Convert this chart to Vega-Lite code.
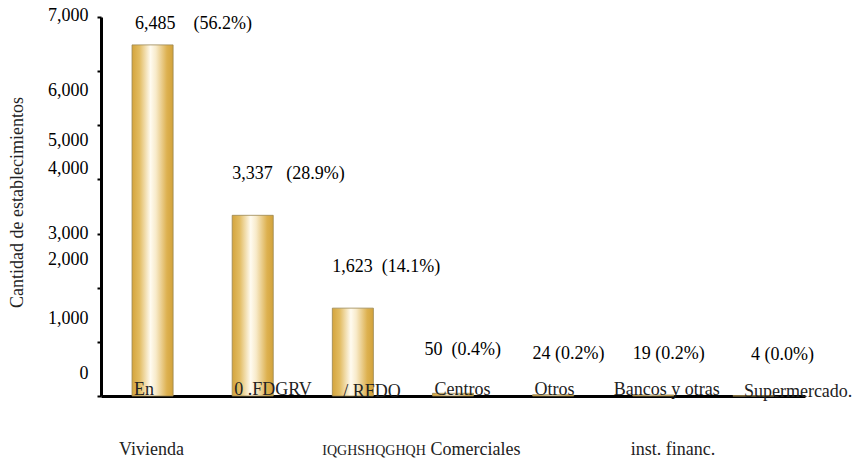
{
  "$schema": "https://vega.github.io/schema/vega-lite/v6.json",
  "width": 704,
  "height": 379,
  "autosize": {"type": "none"},
  "padding": {"left": 101, "top": 17, "right": 53, "bottom": 67},
  "background": "white",
  "config": {"view": {"stroke": null}, "font": "Liberation Serif"},
  "data": {
    "values": [
      {"cat": "Vivienda", "n": 6485, "lab": "6,485\u00a0\u00a0\u00a0\u00a0(56.2%)", "l1": "En", "l2": "Vivienda"},
      {"cat": "Mercados", "n": 3337, "lab": "3,337\u00a0\u00a0\u00a0(28.9%)", "l1": "0 .FDGRV", "l2": ""},
      {"cat": "Local independiente", "n": 1623, "lab": "1,623\u00a0\u00a0(14.1%)", "l1": "/ RFDO", "l2": "IQGHSHQGHQH"},
      {"cat": "Centros Comerciales", "n": 50, "lab": "50\u00a0\u00a0(0.4%)", "l1": "Centros", "l2": "Comerciales"},
      {"cat": "Otros", "n": 24, "lab": "24\u00a0(0.2%)", "l1": "Otros", "l2": ""},
      {"cat": "Bancos y otras inst. financ.", "n": 19, "lab": "19\u00a0(0.2%)", "l1": "Bancos y otras", "l2": "inst. financ."},
      {"cat": "Supermercado.", "n": 4, "lab": "4\u00a0(0.0%)", "l1": "Supermercado.", "l2": ""}
    ]
  },
  "encoding": {
    "x": {
      "field": "cat",
      "type": "nominal",
      "sort": null,
      "scale": {"paddingInner": 0.59, "paddingOuter": 0.31},
      "axis": {
        "title": null,
        "labels": false,
        "ticks": false,
        "domainColor": "#000000",
        "domainWidth": 3
      }
    }
  },
  "layer": [
    {
      "mark": {
        "type": "bar",
        "stroke": "#9a8650",
        "strokeWidth": 0.8,
        "color": {
          "gradient": "linear",
          "x1": 0, "y1": 0, "x2": 1, "y2": 0,
          "stops": [
            {"offset": 0, "color": "#D4A43C"},
            {"offset": 0.18, "color": "#E2BC62"},
            {"offset": 0.45, "color": "#FFFBF0"},
            {"offset": 0.58, "color": "#F8EBCB"},
            {"offset": 0.85, "color": "#DDB150"},
            {"offset": 1, "color": "#D2A23A"}
          ]
        }
      },
      "encoding": {
        "y": {
          "field": "n",
          "type": "quantitative",
          "scale": {"domain": [0, 7000], "nice": false},
          "axis": {
            "values": [0, 1000, 2000, 3000, 4000, 5000, 6000, 7000],
            "format": ",.0f",
            "grid": false,
            "domainColor": "#000000",
            "domainWidth": 3,
            "tickColor": "#000000",
            "tickWidth": 2,
            "tickSize": 4,
            "labelFont": "Liberation Serif",
            "labelFontSize": 18,
            "labelColor": "#000000",
            "labelPadding": 9,
            "labelBaseline": "middle",
            "labelOffset": {
              "condition": [
                {"test": "datum.value == 7000", "value": -2},
                {"test": "datum.value == 6000", "value": 19},
                {"test": "datum.value == 5000", "value": 15},
                {"test": "datum.value == 4000", "value": -11},
                {"test": "datum.value == 2000", "value": -28},
                {"test": "datum.value <= 1000", "value": -23}
              ],
              "value": 0
            },
            "title": "Cantidad de establecimientos",
            "titleFont": "Liberation Serif",
            "titleFontSize": 18,
            "titleFontWeight": "normal",
            "titleColor": "#222222",
            "titleAngle": -90,
            "titleBaseline": "middle",
            "titleX": -84,
            "titleY": 185
          }
        }
      }
    },
    {
      "transform": [{"filter": "datum.n > 6000"}],
      "mark": {"type": "text", "align": "left", "baseline": "alphabetic", "dy": -16, "dx": 3, "fontSize": 18, "color": "#000000", "font": "Liberation Serif"},
      "encoding": {
        "x": {"field": "cat", "type": "nominal", "sort": null, "bandPosition": 0},
        "y": {"field": "n", "type": "quantitative"},
        "text": {"field": "lab"}
      }
    },
    {
      "transform": [{"filter": "datum.n <= 6000 && datum.n != 50 && datum.n != 4"}],
      "mark": {"type": "text", "align": "left", "baseline": "alphabetic", "dy": -36, "fontSize": 18, "color": "#000000", "font": "Liberation Serif"},
      "encoding": {
        "x": {"field": "cat", "type": "nominal", "sort": null, "bandPosition": 0},
        "y": {"field": "n", "type": "quantitative"},
        "text": {"field": "lab"}
      }
    },
    {
      "transform": [{"filter": "datum.n == 50"}],
      "mark": {"type": "text", "align": "left", "baseline": "alphabetic", "dy": -38, "dx": -8, "fontSize": 18, "color": "#000000", "font": "Liberation Serif"},
      "encoding": {
        "x": {"field": "cat", "type": "nominal", "sort": null, "bandPosition": 0},
        "y": {"field": "n", "type": "quantitative"},
        "text": {"field": "lab"}
      }
    },
    {
      "transform": [{"filter": "datum.n == 4"}],
      "mark": {"type": "text", "align": "left", "baseline": "alphabetic", "dy": -36, "dx": 18, "fontSize": 18, "color": "#000000", "font": "Liberation Serif"},
      "encoding": {
        "x": {"field": "cat", "type": "nominal", "sort": null, "bandPosition": 0},
        "y": {"field": "n", "type": "quantitative"},
        "text": {"field": "lab"}
      }
    },
    {
      "transform": [{"filter": "datum.l1 != 'Bancos y otras' && datum.l1 != '/ RFDO' && datum.l1 != 'Supermercado.'"}],
      "mark": {"type": "text", "align": "left", "baseline": "alphabetic", "dy": -1, "dx": 2, "fontSize": 18, "color": "#222222", "font": "Liberation Serif"},
      "encoding": {
        "x": {"field": "cat", "type": "nominal", "sort": null, "bandPosition": 0},
        "y": {"datum": 0, "type": "quantitative"},
        "text": {"field": "l1"}
      }
    },
    {
      "transform": [{"filter": "datum.l1 == '/ RFDO' || datum.l1 == 'Supermercado.'"}],
      "mark": {"type": "text", "align": "left", "baseline": "alphabetic", "dy": 1, "dx": 11, "fontSize": 18, "color": "#222222", "font": "Liberation Serif"},
      "encoding": {
        "x": {"field": "cat", "type": "nominal", "sort": null, "bandPosition": 0},
        "y": {"datum": 0, "type": "quantitative"},
        "text": {"field": "l1"}
      }
    },
    {
      "transform": [{"filter": "datum.l1 == 'Bancos y otras'"}],
      "mark": {"type": "text", "align": "left", "baseline": "alphabetic", "dy": -1, "dx": -19, "fontSize": 18, "color": "#222222", "font": "Liberation Serif"},
      "encoding": {
        "x": {"field": "cat", "type": "nominal", "sort": null, "bandPosition": 0},
        "y": {"datum": 0, "type": "quantitative"},
        "text": {"field": "l1"}
      }
    },
    {
      "transform": [{"filter": "datum.l2 == 'Vivienda'"}],
      "mark": {"type": "text", "align": "left", "baseline": "alphabetic", "dy": 59, "dx": -13, "fontSize": 18, "color": "#222222", "font": "Liberation Serif"},
      "encoding": {
        "x": {"field": "cat", "type": "nominal", "sort": null, "bandPosition": 0},
        "y": {"datum": 0, "type": "quantitative"},
        "text": {"field": "l2"}
      }
    },
    {
      "transform": [{"filter": "datum.l2 == 'IQGHSHQGHQH'"}],
      "mark": {"type": "text", "align": "left", "baseline": "alphabetic", "dy": 59, "dx": -10, "fontSize": 14, "color": "#222222", "font": "Liberation Serif"},
      "encoding": {
        "x": {"field": "cat", "type": "nominal", "sort": null, "bandPosition": 0},
        "y": {"datum": 0, "type": "quantitative"},
        "text": {"field": "l2"}
      }
    },
    {
      "transform": [{"filter": "datum.l2 == 'Comerciales' || datum.l2 == 'inst. financ.'"}],
      "mark": {"type": "text", "align": "left", "baseline": "alphabetic", "dy": 59, "dx": -2, "fontSize": 18, "color": "#222222", "font": "Liberation Serif"},
      "encoding": {
        "x": {"field": "cat", "type": "nominal", "sort": null, "bandPosition": 0},
        "y": {"datum": 0, "type": "quantitative"},
        "text": {"field": "l2"}
      }
    }
  ]
}
